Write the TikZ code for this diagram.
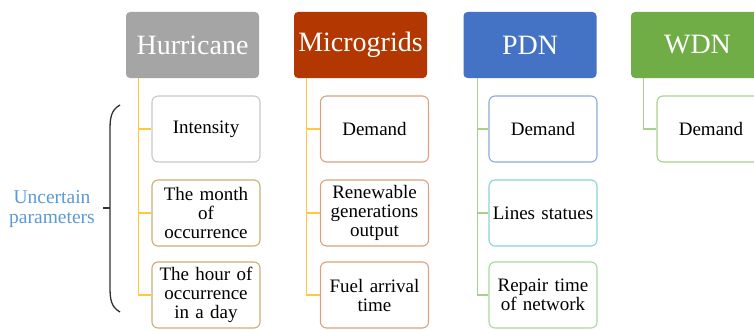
\documentclass[tikz,border=0pt]{standalone}
\usepackage{fontspec}
\setmainfont{Liberation Serif}
\definecolor{hurgray}{HTML}{A5A5A5}
\definecolor{mgred}{HTML}{B33700}
\definecolor{pdnblue}{HTML}{4472C4}
\definecolor{wdngreen}{HTML}{70AD47}
\definecolor{lineyellow}{HTML}{FFC83D}
\definecolor{linegreen}{HTML}{A9D18E}
\definecolor{bgray}{HTML}{C8C8C8}
\definecolor{btan}{HTML}{CDAE72}
\definecolor{bsalmon}{HTML}{DDA07E}
\definecolor{bblue}{HTML}{8EA9DB}
\definecolor{bteal}{HTML}{86D4D4}
\definecolor{bgreen}{HTML}{A9D8A0}
\definecolor{txtblue}{HTML}{5B9BD5}
\definecolor{bracecol}{HTML}{303030}
\tikzset{
  header/.style={rectangle, rounded corners=4pt, minimum width=133pt, minimum height=66pt,
    inner sep=0pt, text=white, font=\fontsize{28}{30}\selectfont},
  childbox/.style={rectangle, rounded corners=6pt, draw, line width=1.1pt, fill=white,
    minimum width=108pt, minimum height=66pt, inner sep=1pt, text width=106pt, align=center,
    font=\fontsize{19}{19}\selectfont},
  conn/.style={line width=1.3pt}
}
\begin{document}
\begin{tikzpicture}[x=1pt,y=-1pt]
\useasboundingbox (0,0) rectangle (754,329);
\clip (0,0) rectangle (754,329);
\fill[white] (0,0) rectangle (754,329);
% headers
\node[header, fill=hurgray] (hur) at (192.5,45) {Hurricane};
\node[header, fill=mgred] (mg) at (360.5,45) {Microgrids};
\node[header, fill=pdnblue] (pdn) at (530,45) {PDN};
\node[header, fill=wdngreen] (wdn) at (697.5,45) {WDN};
% children
\node[childbox, draw=bgray] (h1) at (206,129) {Intensity};
\node[childbox, draw=btan] (h2) at (206,213) {The month\\of\\occurrence};
\node[childbox, draw=btan] (h3) at (206,295) {The hour of\\occurrence\\in a day};
\node[childbox, draw=bsalmon] (m1) at (374.5,129) {Demand};
\node[childbox, draw=bsalmon] (m2) at (374.5,213) {Renewable\\generations\\output};
\node[childbox, draw=bsalmon] (m3) at (374.5,295) {Fuel arrival\\time};
\node[childbox, draw=bblue] (p1) at (543,129) {Demand};
\node[childbox, draw=bteal] (p2) at (543,213) {Lines statues};
\node[childbox, draw=bgreen] (p3) at (543,295) {Repair time\\of network};
\node[childbox, draw=linegreen] (w1) at (711,129) {Demand};
% connectors
\coordinate (hc) at ([xshift=13pt]hur.south west);
\coordinate (mc) at ([xshift=13pt]mg.south west);
\coordinate (pc) at ([xshift=14pt]pdn.south west);
\coordinate (wc) at ([xshift=13pt]wdn.south west);
\draw[conn, lineyellow] (hc) |- (h3.west);
\draw[conn, lineyellow] (hc |- h1.west) -- (h1.west);
\draw[conn, lineyellow] (hc |- h2.west) -- (h2.west);
\draw[conn, lineyellow] (mc) |- (m3.west);
\draw[conn, lineyellow] (mc |- m1.west) -- (m1.west);
\draw[conn, lineyellow] (mc |- m2.west) -- (m2.west);
\draw[conn, linegreen] (pc) |- (p3.west);
\draw[conn, linegreen] (pc |- p1.west) -- (p1.west);
\draw[conn, linegreen] (pc |- p2.west) -- (p2.west);
\draw[conn, linegreen] (wc) |- (w1.west);
% brace
\coordinate (btop) at (120,105);
\coordinate (bbot) at (120,312);
\coordinate (btick) at (103,208);
\draw[bracecol, line width=1.3pt] (btop) .. controls (111,110) and (110,118) .. (110,130)
  -- (110,287) .. controls (110,299) and (111,307) .. (bbot);
\draw[bracecol, line width=1.8pt] (btick) -- (110,208);
\node[text=txtblue, align=center, font=\fontsize{19.5}{20.5}\selectfont, inner sep=0pt] (unc) at (52,209) {Uncertain\\parameters};
\end{tikzpicture}
\end{document}
